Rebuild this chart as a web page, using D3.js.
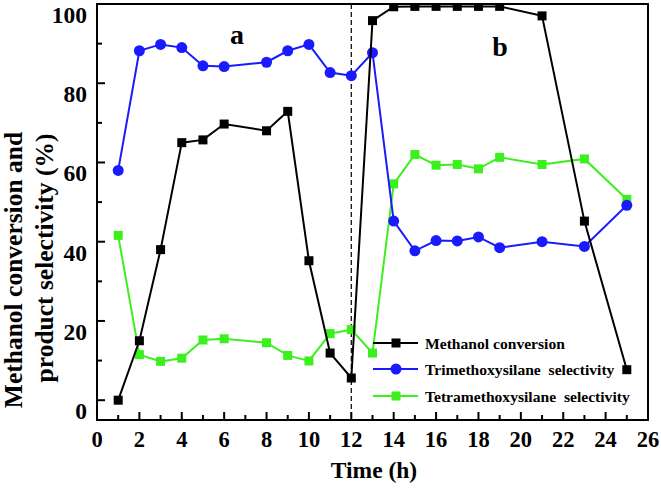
<!DOCTYPE html>
<html><head><meta charset="utf-8">
<script src="https://cdn.jsdelivr.net/npm/d3@7"></script>
<style>body{margin:0;background:#fff}svg{display:block}</style>
</head><body>
<svg id="c" width="661" height="488"></svg>
<script>
const methanolT = [1,2,3,4,5,6,8,9,10,11,12,13,14,15,16,17,18,19,21,23,25];
const methanolV = [0,15,38,65,65.7,69.7,68,72.9,35.2,11.9,5.6,95.8,99.3,99.4,99.4,99.4,99.4,99.4,97,45.2,7.7];
const trimT = [1,2,3,4,5,6,8,9,10,11,12,13,14,15,16,17,18,19,21,23,25];
const trimV = [58,88.2,89.8,89,84.4,84.2,85.3,88.2,89.8,82.7,81.9,87.7,45.2,37.7,40.3,40.2,41.2,38.5,40,38.8,49.2];
const tetraT = [1,2,3,4,5,6,8,9,10,11,12,13,14,15,16,17,18,19,21,23,25];
const tetraV = [41.6,11.5,9.8,10.6,15.2,15.5,14.5,11.3,9.9,16.8,17.8,11.9,54.6,62,59.3,59.5,58.4,61.3,59.5,60.9,50.7];
const xTicks = [0,2,4,6,8,10,12,14,16,18,20,22,24,26];
const yTicks = [0,20,40,60,80,100];
const seriesNames = ["Methanol conversion","Trimethoxysilane  selectivity","Tetramethoxysilane  selectivity"];
const colors = ["#000000","#1a1aff","#3cf01e"];

const svg = d3.select("#c");
const L=97,R=648,T=4,B=420;
const x = d3.scaleLinear().domain([0,26]).range([L,R]);
const y = d3.scaleLinear().domain([-5,100]).range([B,T]);
const font = "'Liberation Serif','Times New Roman',serif";

svg.append("line").attr("x1",x(12)).attr("x2",x(12)).attr("y1",T).attr("y2",B)
  .attr("stroke","#000").attr("stroke-width",1.2).attr("stroke-dasharray","5,3");

svg.append("rect").attr("x",L).attr("y",T).attr("width",R-L).attr("height",B-T)
  .attr("fill","none").attr("stroke","#000").attr("stroke-width",2);

const xAxis = svg.append("g");
d3.range(0,27,1).forEach(v=>{
  const major = v%2===0;
  xAxis.append("line").attr("x1",x(v)).attr("x2",x(v)).attr("y1",B).attr("y2",B-(major?8:5))
    .attr("stroke","#000").attr("stroke-width",2);
});
xTicks.forEach(v=>{
  xAxis.append("text").attr("x",x(v)).attr("y",447).attr("text-anchor","middle")
    .attr("font-family",font).attr("font-weight","bold").attr("font-size",22.5).text(v);
});
d3.range(0,101,10).forEach(v=>{
  const major = v%20===0;
  svg.append("line").attr("x1",L).attr("x2",L+(major?8:5)).attr("y1",y(v)).attr("y2",y(v))
    .attr("stroke","#000").attr("stroke-width",2);
});
yTicks.forEach(v=>{
  svg.append("text").attr("x",87).attr("y",y(v)+19).attr("text-anchor","end")
    .attr("font-family",font).attr("font-weight","bold").attr("font-size",23.5).text(v);
});

svg.append("text").attr("x",374).attr("y",478).attr("text-anchor","middle")
  .attr("font-family",font).attr("font-weight","bold").attr("font-size",23.5).text("Time (h)");
const yt = svg.append("text").attr("transform","translate(0,265) rotate(-90)")
  .attr("text-anchor","middle").attr("font-family",font).attr("font-weight","bold").attr("font-size",25.5);
yt.append("tspan").attr("x",-5).attr("y",22).text("Methanol conversion and");
yt.append("tspan").attr("x",7).attr("y",53).text("product selectivity (%)");

svg.append("text").attr("x",237).attr("y",44).attr("text-anchor","middle")
  .attr("font-family",font).attr("font-weight","bold").attr("font-size",28).text("a");
svg.append("text").attr("x",500).attr("y",56).attr("text-anchor","middle")
  .attr("font-family",font).attr("font-weight","bold").attr("font-size",28).text("b");

const line = d3.line().x(d=>x(d[0])).y(d=>y(d[1]));
const series = [
  {t:methanolT,v:methanolV,c:colors[0],m:"sq"},
  {t:trimT,v:trimV,c:colors[1],m:"ci"},
  {t:tetraT,v:tetraV,c:colors[2],m:"sq"}
];
function marker(g,cx,cy,s,c){
  if(s.m==="sq") g.append("rect").attr("x",cx-4.5).attr("y",cy-4.5).attr("width",9).attr("height",9).attr("fill",c);
  else g.append("circle").attr("cx",cx).attr("cy",cy).attr("r",5.5).attr("fill",c);
}
const clip = svg.append("defs").append("clipPath").attr("id","cp");
clip.append("rect").attr("x",L).attr("y",T).attr("width",R-L).attr("height",B-T);
const plot = svg.append("g").attr("clip-path","url(#cp)");
[2,1,0].forEach(i=>{
  const s = series[i];
  const pts = s.t.map((t,j)=>[t,s.v[j]]);
  plot.append("path").attr("d",line(pts)).attr("fill","none").attr("stroke",s.c).attr("stroke-width",2);
  pts.forEach(p=>marker(plot,x(p[0]),y(p[1]),s,s.c));
});

const lg = svg.append("g");
const ly=[343,369,396];
series.forEach((s,i)=>{
  lg.append("line").attr("x1",373).attr("x2",418).attr("y1",ly[i]).attr("y2",ly[i]).attr("stroke",s.c).attr("stroke-width",2);
  marker(lg,396,ly[i],s,s.c);
  lg.append("text").attr("x",425).attr("y",ly[i]+5.5).attr("font-family",font).attr("font-weight","bold")
    .attr("font-size",15.6).style("white-space","pre").text(seriesNames[i]);
});
</script>
</body></html>
